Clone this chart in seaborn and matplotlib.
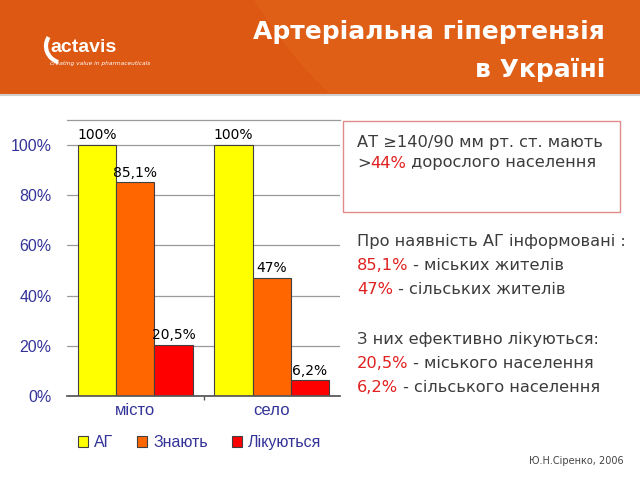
import numpy as np
import pandas as pd
import matplotlib
matplotlib.use('Agg')
import matplotlib.pyplot as plt
import seaborn as sns
from matplotlib.patches import Rectangle, Circle, Arc

# --- data ---
places = ['місто', 'село']
groups = ['АГ', 'Знають', 'Лікуються']
city_vals = [100, 85.1, 20.5]
village_vals = [100, 47, 6.2]
bar_colors = ['#FFFF00', '#FF6600', '#FF0000']
y_ticks = [0, 20, 40, 60, 80, 100]

df = pd.DataFrame({
    'place': np.repeat(places, len(groups)),
    'group': groups * len(places),
    'value': city_vals + village_vals,
})

sns.set_theme(style='white')
plt.rcParams['font.family'] = ['DejaVu Sans']

TXT = '#3c3c3c'
RED = '#E02020'
NAVY = '#333399'

fig = plt.figure(figsize=(6.4, 4.8), dpi=100)
fig.patch.set_facecolor('white')

# background canvas in pixel coordinates
bg = fig.add_axes([0, 0, 1, 1], zorder=0)
bg.set_xlim(0, 640)
bg.set_ylim(480, 0)
bg.axis('off')

# --- header band ---
header = Rectangle((0, 0), 640, 93, color='#DD5812', zorder=1)
bg.add_patch(header)
glow = Circle((664, -253), 481, color='#E3641C', alpha=0.6, zorder=2)
bg.add_patch(glow)
glow.set_clip_path(header)
bg.plot([0, 640], [95, 95], color='#cfcfcf', lw=1.5, zorder=2)

# logo
bg.add_patch(Arc((64, 46), 36, 34, theta1=110, theta2=210, color='white', lw=3, zorder=3))
bg.text(50, 48, 'actavis', color='white', fontsize=14, fontweight='bold',
        family='Liberation Sans', va='center', ha='left', zorder=3)
bg.text(50, 63, 'creating value in pharmaceuticals', color='white', fontsize=4.2,
        style='italic', va='center', ha='left', zorder=3)

bg.text(605, 32, 'Артеріальна гіпертензія', color='white', fontsize=18,
        fontweight='bold', ha='right', va='center', zorder=3)
bg.text(605, 70, 'в Україні', color='white', fontsize=18,
        fontweight='bold', ha='right', va='center', zorder=3)

# --- chart ---
ax = fig.add_axes([67 / 640, 84 / 480, 273 / 640, 276 / 480], zorder=2)
sns.barplot(data=df, x='place', y='value', hue='group', palette=bar_colors,
            saturation=1, width=0.84, edgecolor='#404040', linewidth=0.8, ax=ax)

ax.set_ylim(0, 110)
ax.set_xlim(-0.5, 1.5)
ax.set_yticks(y_ticks)
ax.set_yticklabels([f'{v}%' for v in y_ticks], family='Liberation Sans')
ax.set_xticks(range(len(places)))
ax.set_xticklabels(places, family='Liberation Sans')
ax.yaxis.grid(True, color='#9a9a9a', lw=0.9)
ax.set_axisbelow(True)
ax.set_xlabel('')
ax.set_ylabel('')
for s in ['left', 'right']:
    ax.spines[s].set_visible(False)
ax.spines['top'].set_color('#9a9a9a')
ax.spines['top'].set_linewidth(0.9)
ax.spines['bottom'].set_color('#555555')
ax.tick_params(axis='y', length=0, pad=11, labelsize=11.5, labelcolor=NAVY)
ax.tick_params(axis='x', length=0, pad=5, labelsize=12, labelcolor=NAVY)
ax.set_xticks([0.5], minor=True)
ax.tick_params(axis='x', which='minor', length=3, color='#555555', bottom=True)


def fmt(v):
    return f'{v:g}'.replace('.', ',') + '%'


for cont in ax.containers:
    ax.bar_label(cont, labels=[fmt(v) for v in cont.datavalues], padding=2,
                 fontsize=10, color='black')

handles, labels = ax.get_legend_handles_labels()
leg = ax.legend(handles, labels, loc='center', bbox_to_anchor=(0.485, -0.17),
                ncol=3, frameon=False, handlelength=0.65, handleheight=0.65,
                handletextpad=0.35, columnspacing=1.5,
                prop={'family': 'Liberation Sans', 'size': 11.5})
for t in leg.get_texts():
    t.set_color(NAVY)

# --- right-hand text ---
renderer = fig.canvas.get_renderer()
FS = 11.7


def text_width(s):
    t = bg.text(0, 0, s + '|', fontsize=FS)
    w = t.get_window_extent(renderer).width
    t.remove()
    bar = bg.text(0, 0, '|', fontsize=FS)
    w -= bar.get_window_extent(renderer).width
    bar.remove()
    return w


def rich(x, y, parts):
    prefix = ''
    for s, c in parts:
        bg.text(x + text_width(prefix) if prefix else x, y, s, color=c,
                fontsize=FS, va='center', ha='left', zorder=3)
        prefix += s


bg.add_patch(Rectangle((343, 121), 277, 91, facecolor='white',
                       edgecolor='#E08A8A', lw=1, zorder=2))
rich(357, 143, [('АТ ≥140/90 мм рт. ст. мають', TXT)])
rich(357, 163, [('>', TXT), ('44%', RED), (' дорослого населення', TXT)])

rich(357, 241, [('Про наявність АГ інформовані :', TXT)])
rich(357, 266, [('85,1%', RED), (' - міських жителів', TXT)])
rich(357, 290, [('47%', RED), (' - сільських жителів', TXT)])

rich(357, 339, [('З них ефективно лікуються:', TXT)])
rich(357, 364, [('20,5%', RED), (' - міського населення', TXT)])
rich(357, 388, [('6,2%', RED), (' - сільського населення', TXT)])

bg.text(624, 461, 'Ю.Н.Сіренко, 2006', color='#444444', fontsize=7,
        ha='right', va='center', zorder=3)

fig.savefig('out.png', dpi=100)
